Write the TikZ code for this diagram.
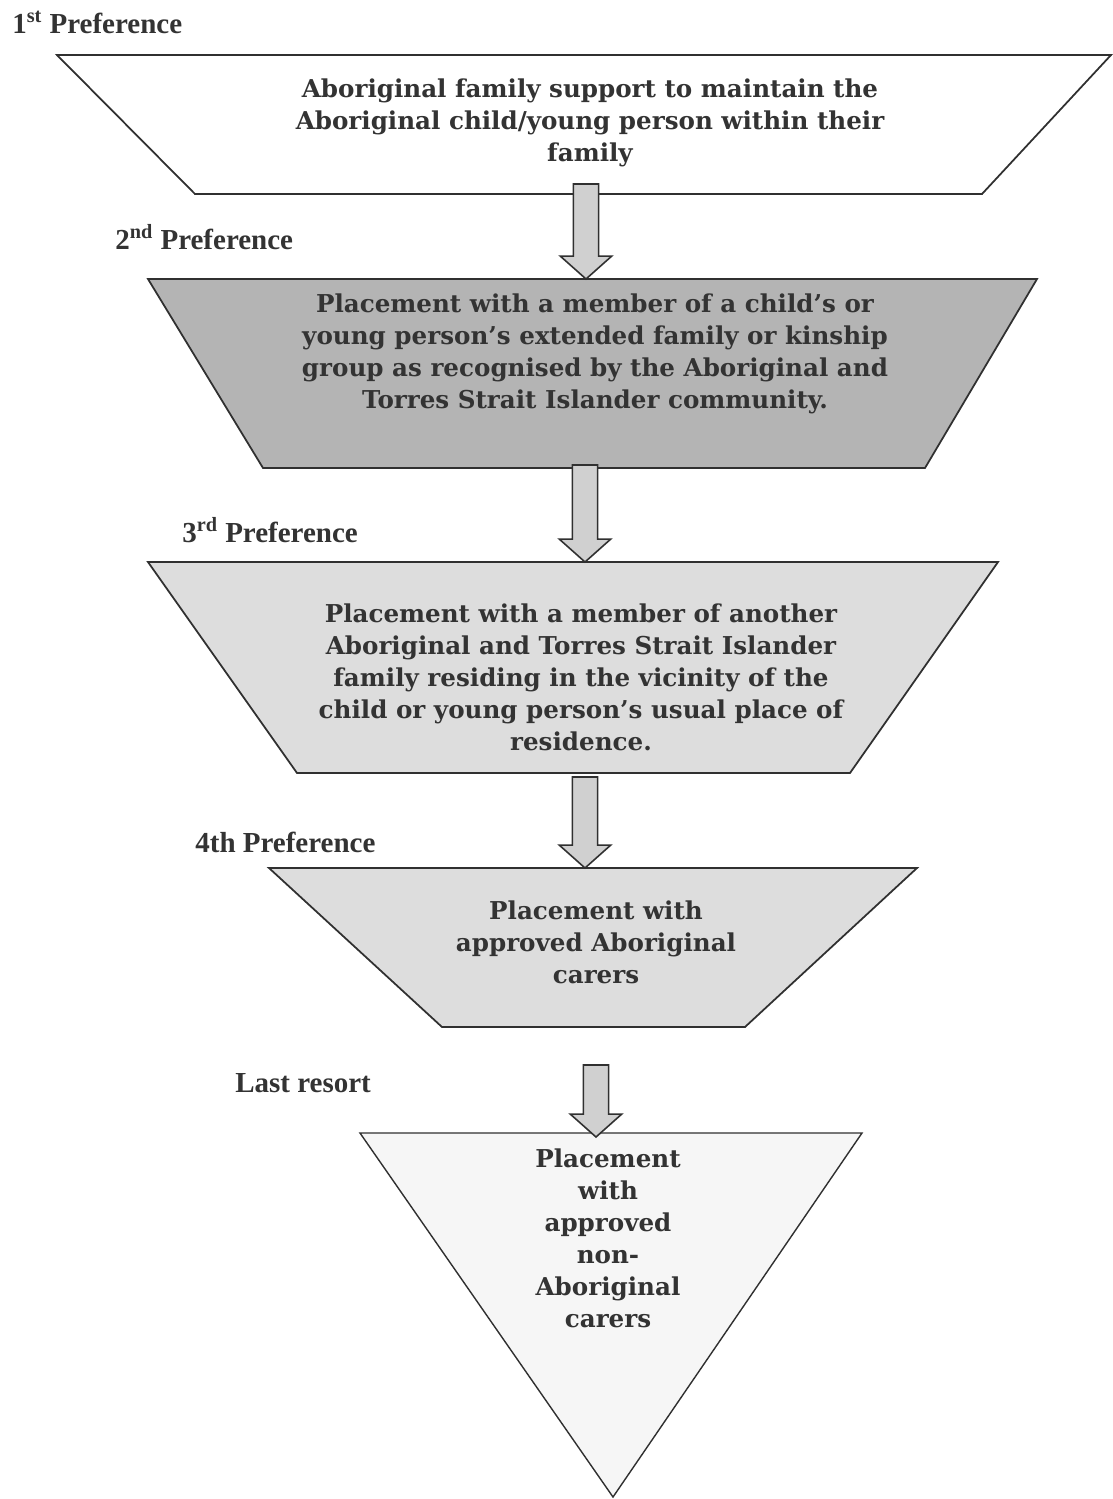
\documentclass[tikz,border=0pt]{standalone}
\usepackage{fontspec}
\setmainfont{Liberation Serif}
\newfontfamily\boxfont{DejaVu Serif}
\usetikzlibrary{calc}

\definecolor{linegray}{HTML}{303030}
\definecolor{textgray}{HTML}{333333}
\definecolor{darkfill}{HTML}{B4B4B4}
\definecolor{lightfill}{HTML}{DDDDDD}
\definecolor{palefill}{HTML}{F6F6F6}
\definecolor{arrowfill}{HTML}{D0D0D0}

\tikzset{
  level/.style={draw=linegray, line width=1pt, line join=miter},
  boxtext/.style={align=center, text=textgray, inner sep=0pt,
    font=\boxfont\bfseries\fontsize{14}{18.2}\selectfont},
  preflabel/.style={anchor=west, text=textgray, inner sep=0pt,
    font=\bfseries\fontsize{16.5}{19}\selectfont},
  fatarrow/.style={draw=linegray, fill=arrowfill, line width=0.9pt, line join=miter}
}

% block arrow from the top of its shaft (#1) down to its tip (#2)
\newcommand{\fatdown}[2]{%
  \draw[fatarrow] let \p1=(#1), \p2=(#2) in
    (\x2-7.2pt,\y1) -- (\x2+7.2pt,\y1) -- (\x2+7.2pt,\y2+13pt)
    -- (\x2+14.6pt,\y2+13pt) -- (\x2,\y2) -- (\x2-14.6pt,\y2+13pt)
    -- (\x2-7.2pt,\y2+13pt) -- cycle;}

\begin{document}
\begin{tikzpicture}[x=0.02cm, y=-0.02cm]
  \useasboundingbox (0,0) rectangle (1113,1499);

  % 1. levels of the funnel
  \draw[level, fill=white] (57,55) -- (1111,55) -- (982,194) -- (195,194) -- cycle;
  \draw[level, fill=darkfill] (148,279) -- (1037,279) -- (925,468) -- (263,468) -- cycle;
  \draw[level, fill=lightfill] (148,562) -- (998,562) -- (850,773) -- (297,773) -- cycle;
  \draw[level, fill=lightfill] (269,868) -- (917,868) -- (745,1027) -- (442,1027) -- cycle;
  \draw[level, line width=0.8pt, fill=palefill] (360,1133) -- (862,1133) -- (613,1497) -- cycle;

  % 2. texts inside the levels
  \node[boxtext] (family) at (590,123)
    {Aboriginal family support to maintain the\\
     Aboriginal child/young person within their\\
     family};
  \node[boxtext] (kinship) at (595,354)
    {Placement with a member of a child’s or\\
     young person’s extended family or kinship\\
     group as recognised by the Aboriginal and\\
     Torres Strait Islander community.};
  \node[boxtext] (community) at (581,677)
    {Placement with a member of another\\
     Aboriginal and Torres Strait Islander\\
     family residing in the vicinity of the\\
     child or young person’s usual place of\\
     residence.};
  \node[boxtext] (carers) at (596,942)
    {Placement with\\
     approved Aboriginal\\
     carers};
  \node[boxtext] (nonaboriginal) at (608,1238)
    {Placement\\ with\\ approved\\ non-\\ Aboriginal\\ carers};

  % 3. preference labels
  \node[preflabel] (pref1) at (12,22) {1\textsuperscript{st} Preference};
  \node[preflabel] (pref2) at (115,237) {2\textsuperscript{nd} Preference};
  \node[preflabel] (pref3) at (182,530) {3\textsuperscript{rd} Preference};
  \node[preflabel] (pref4) at (195,842) {4th Preference};
  \node[preflabel] (last) at (235,1083) {Last resort};

  % 4. block arrows between levels
  \coordinate (out1) at (586,184);  \coordinate (in2) at (586,279);
  \coordinate (out2) at (585,465);  \coordinate (in3) at (585,562);
  \coordinate (out3) at (585,777);  \coordinate (in4) at (585,868);
  \coordinate (out4) at (596,1065); \coordinate (in5) at (596,1137);
  \fatdown{out1}{in2}
  \fatdown{out2}{in3}
  \fatdown{out3}{in4}
  \fatdown{out4}{in5}
\end{tikzpicture}
\end{document}
